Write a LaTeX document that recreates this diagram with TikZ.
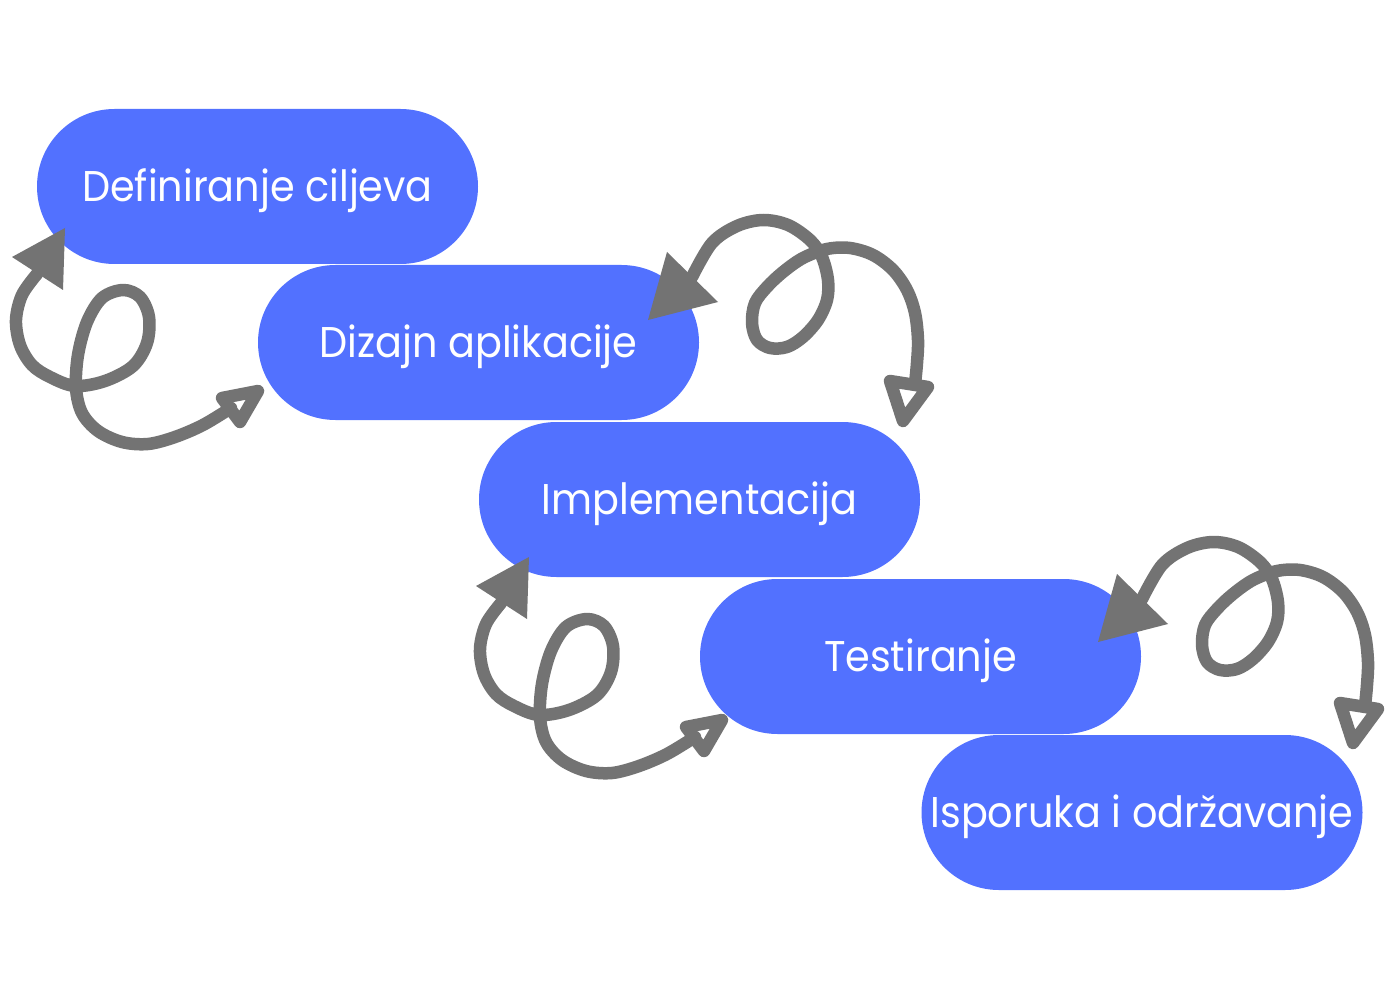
\documentclass[tikz,border=0pt]{standalone}
\usepackage{graphicx}
\usepackage{fontspec}
\setmainfont{Poppins}
\definecolor{pillblue}{HTML}{5271FF}
\definecolor{arrowgray}{HTML}{737373}
\newcommand\pilllabel[1]{\scalebox{0.925}[1]{#1}}
\tikzset{
  pill/.style={rectangle, rounded corners=77.5pt, minimum width=441pt, minimum height=155pt,
    fill=pillblue, text=white, inner sep=0pt, text height=30pt, text depth=0pt,
    font=\fontsize{43}{50}\selectfont},
  shaft/.style={draw=arrowgray, line width=12.5pt, line cap=round, line join=round},
  headfilled/.style={fill=arrowgray, draw=none},
  headopen/.style={draw=arrowgray, line width=12.5pt, line join=round},
  loopA/.pic={
    \coordinate (-s) at (37,274);
    \coordinate (-e) at (231,408);
    \fill[headfilled] (12,257) -- (65,228) -- (63,290) -- cycle;
    \draw[shaft] plot[smooth, tension=0.55] coordinates {
      (-s) (22,295) (16,320) (20,345) (32,365) (50,377) (75,386) (105,381)
      (133,366) (147,343) (149,317) (140,297) (123,290) (102,298) (87,322)
      (78,355) (76,388) (82,413) (98,431) (122,442) (148,444) (175,437)
      (203,425) (-e)};
    \draw[headopen] (222,398) -- (258,391) -- (240,422) -- cycle;
  },
  loopB/.pic={
    \coordinate (-s) at (692,277);
    \coordinate (-e) at (915,384);
    \fill[headfilled] (667,252) -- (718,302) -- (648,320) -- cycle;
    \draw[shaft] plot[smooth, tension=0.55] coordinates {
      (-s) (712,243) (737,226) (763,220) (788,225) (810,240) (822,257)
      (828,280) (827,300) (818,320) (803,337) (787,347) (770,348) (757,340)
      (752,323) (755,303) (767,287) (783,272) (803,258) (827,249) (850,248)
      (873,255) (893,270) (907,290) (915,313) (918,340) (917,363) (-e)};
    \draw[headopen] (890,381) -- (928,387) -- (903,421) -- cycle;
  }
}
\begin{document}
\begin{tikzpicture}[x=1pt, y=-1pt]
  \useasboundingbox[fill=white] (0,0) rectangle (1400,1000);
  \node[pill] (p1) at (257.5,186.5) {\pilllabel{Definiranje ciljeva}};
  \node[pill] (p2) at (478.5,342.5) {\pilllabel{Dizajn aplikacije}};
  \node[pill] (p3) at (699.5,499.5) {\pilllabel{Implementacija}};
  \node[pill] (p4) at (920.5,656.5) {\pilllabel{Testiranje}};
  \node[pill] (p5) at (1142,812.5) {\pilllabel{Isporuka i održavanje}};
  \pic (l1) at (0,0) {loopA};
  \pic (l2) at (0,0) {loopB};
  \pic (l3) at (464,329) {loopA};
  \pic (l4) at (450,322) {loopB};
\end{tikzpicture}
\end{document}
